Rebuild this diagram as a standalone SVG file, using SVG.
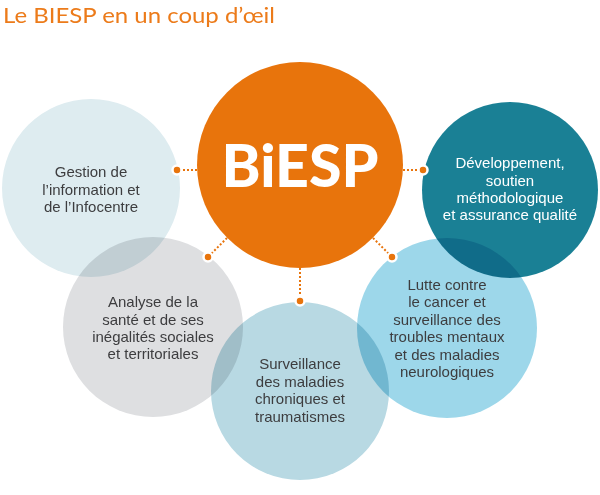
<svg xmlns="http://www.w3.org/2000/svg" width="600" height="495" viewBox="0 0 600 495">
<style>
.t{font-family:"Liberation Sans",Arial,sans-serif;font-size:15px;fill:#3d3d3f;text-anchor:middle}
.w{fill:#ffffff}
.c{mix-blend-mode:multiply}
.con{stroke:#e8740c;stroke-width:2;stroke-dasharray:2 2;fill:none}
.dot{fill:#e8740c;stroke:#ffffff;stroke-width:2.5}
</style>
<rect width="600" height="495" fill="#ffffff"/>
<text x="3" y="23" font-family="Lato,'Open Sans',sans-serif" font-size="21" fill="#ec7b1a" textLength="272" lengthAdjust="spacingAndGlyphs">Le BIESP en un coup d’œil</text>
<g id="gestion">
<circle class="c" cx="91" cy="188" r="89" fill="#deecf0"/>
<text class="t"><tspan x="91" y="177">Gestion de</tspan><tspan x="91" y="195">l’information et</tspan><tspan x="91" y="212">de l’Infocentre</tspan></text>
</g>
<g id="analyse">
<circle class="c" cx="153" cy="327" r="90" fill="#dedfe1"/>
<text class="t"><tspan x="153" y="307">Analyse de la</tspan><tspan x="153" y="325">santé et de ses</tspan><tspan x="153" y="342">inégalités sociales</tspan><tspan x="153" y="359">et territoriales</tspan></text>
</g>
<g id="surveillance">
<circle class="c" cx="300" cy="391" r="89" fill="#b8d9e3"/>
<text class="t"><tspan x="300" y="369">Surveillance</tspan><tspan x="300" y="387">des maladies</tspan><tspan x="300" y="404">chroniques et</tspan><tspan x="300" y="422">traumatismes</tspan></text>
</g>
<g id="lutte">
<circle class="c" cx="447" cy="328" r="90" fill="#9dd7ea"/>
<text class="t"><tspan x="447" y="290">Lutte contre</tspan><tspan x="447" y="307">le cancer et</tspan><tspan x="447" y="325">surveillance des</tspan><tspan x="447" y="342">troubles mentaux</tspan><tspan x="447" y="360">et des maladies</tspan><tspan x="447" y="377">neurologiques</tspan></text>
</g>
<g id="developpement">
<circle class="c" cx="510" cy="190" r="88" fill="#137c92" fill-opacity="0.97"/>
<text class="t w"><tspan x="510" y="168">Développement,</tspan><tspan x="510" y="186">soutien</tspan><tspan x="510" y="203">méthodologique</tspan><tspan x="510" y="220">et assurance qualité</tspan></text>
</g>
<g id="connectors">
<line class="con" x1="197" y1="170" x2="179" y2="170"/>
<line class="con" x1="227" y1="238" x2="210" y2="255"/>
<line class="con" x1="300" y1="268" x2="300" y2="299"/>
<line class="con" x1="373" y1="238" x2="390" y2="255"/>
<line class="con" x1="403" y1="170" x2="421" y2="170"/>
<circle class="dot" cx="177" cy="170" r="4.5"/>
<circle class="dot" cx="208" cy="257" r="4.5"/>
<circle class="dot" cx="300" cy="301" r="4.5"/>
<circle class="dot" cx="392" cy="257" r="4.5"/>
<circle class="dot" cx="423" cy="170" r="4.5"/>
</g>
<g id="biesp">
<circle cx="300" cy="165" r="103" fill="#e8740c"/>
<text x="300" y="187" text-anchor="middle" font-family="Lato,'Open Sans',sans-serif" font-weight="900" font-size="59" fill="#ffffff">BiESP</text>
</g>
</svg>
